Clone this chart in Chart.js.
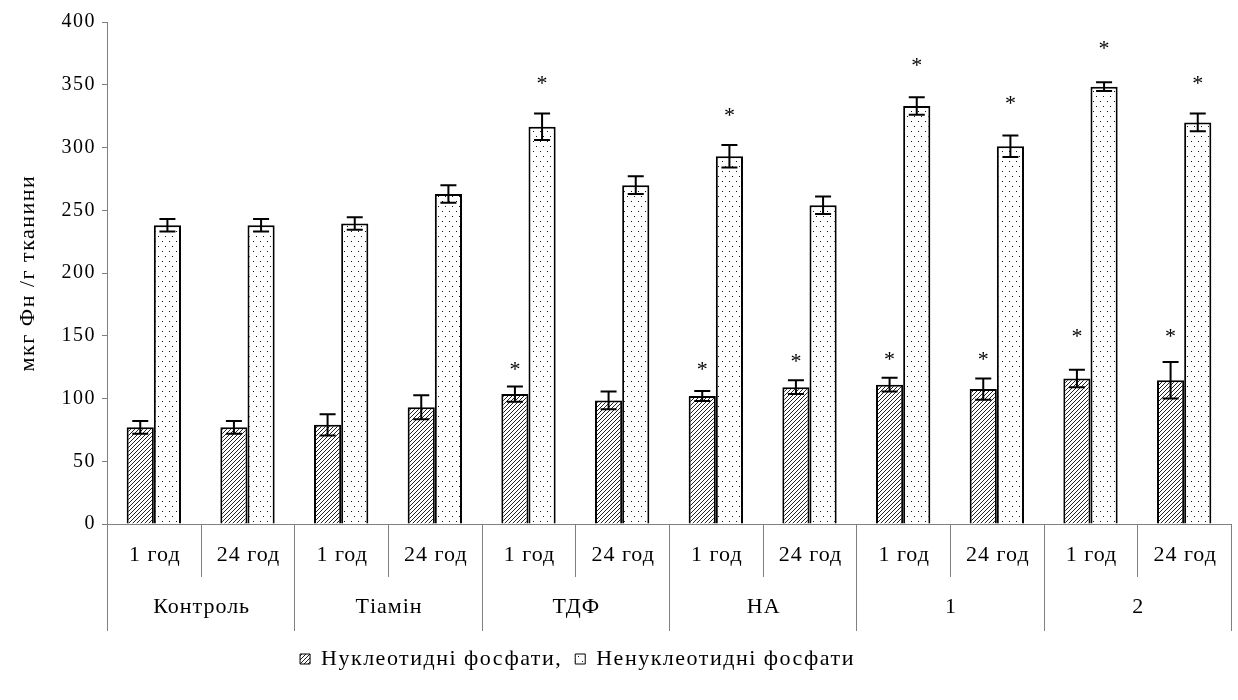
<!DOCTYPE html>
<html>
<head>
<meta charset="utf-8">
<script src="https://cdn.jsdelivr.net/npm/chart.js@4.4.1/dist/chart.umd.min.js"></script>
<style>
  body { margin: 0; background: #fff; }
  #wrap { width: 1238px; height: 700px; }
</style>
</head>
<body>
<div id="wrap"><canvas id="c" width="1238" height="700"></canvas></div>
<script>
// групи та час
const groups = ['Контроль', 'Тіамін', 'ТДФ', 'НА', '1', '2'];
const times = ['1 год', '24 год'];

// нуклеотидні фосфати
const nucl = [77, 77, 79, 93, 103.5, 98.5, 102, 109, 111, 107.5, 116, 114.5];
const nuclErr = [5, 5, 8.5, 9.5, 6, 7, 4, 5.5, 5.5, 8.5, 7, 14.5];
const nuclStars = [null, null, null, null, 125.5, null, 125.5, 132, 134, 134, 152, 152];

// ненуклеотидні фосфати
const nonNucl = [238, 238, 239.5, 263, 316.5, 270, 293, 254, 333, 301, 348.5, 320];
const nonNuclErr = [5, 5, 5, 7, 10.5, 7, 9, 7, 7, 8.5, 3.5, 7];
const nonNuclStars = [null, null, null, null, 354, null, 328, null, 368, 338, 381.5, 354];

const yTicks = [0, 50, 100, 150, 200, 250, 300, 350, 400];

const labels = groups.flatMap(() => times);
const serif = '"Liberation Serif", "DejaVu Serif", serif';
const spacing = '1.5px';

function hatchPattern() {
  const c = document.createElement('canvas');
  c.width = 4; c.height = 4;
  const g = c.getContext('2d');
  g.fillStyle = '#fff'; g.fillRect(0, 0, 4, 4);
  g.strokeStyle = '#222'; g.lineWidth = 1;
  g.beginPath();
  g.moveTo(0, 4); g.lineTo(4, 0);
  g.moveTo(-1, 1); g.lineTo(1, -1);
  g.moveTo(3, 5); g.lineTo(5, 3);
  g.stroke();
  return g.createPattern(c, 'repeat');
}

function dotPattern() {
  const c = document.createElement('canvas');
  c.width = 7; c.height = 10;
  const g = c.getContext('2d');
  g.fillStyle = '#fff'; g.fillRect(0, 0, 7, 10);
  g.fillStyle = '#111';
  g.fillRect(1, 1, 1, 1);
  g.fillRect(4, 6, 1, 1);
  return g.createPattern(c, 'repeat');
}

const extras = {
  id: 'extras',
  beforeLayout(chart) { chart.ctx.letterSpacing = spacing; },
  afterLayout(chart) {
    // легенда трохи лівіше центру, як в оригіналі
    chart.legend.left -= 38;
    chart.legend.right -= 38;
  },
  beforeDraw(chart) { chart.ctx.letterSpacing = spacing; },
  afterDatasetsDraw(chart) {
    const ctx = chart.ctx;
    const x = chart.scales.x, y = chart.scales.y;
    const area = chart.chartArea;
    ctx.save();

    // похибки
    chart.data.datasets.forEach((ds, di) => {
      const meta = chart.getDatasetMeta(di);
      meta.data.forEach((bar, i) => {
        const v = ds.data[i], e = ds.err[i];
        const t = y.getPixelForValue(v + e), b = y.getPixelForValue(v - e);
        ctx.strokeStyle = '#000';
        ctx.lineWidth = 2;
        ctx.beginPath();
        ctx.moveTo(bar.x, t); ctx.lineTo(bar.x, b);
        ctx.moveTo(bar.x - 8, t); ctx.lineTo(bar.x + 8, t);
        ctx.moveTo(bar.x - 8, b); ctx.lineTo(bar.x + 8, b);
        ctx.stroke();

        const s = ds.stars[i];
        if (s != null) {
          ctx.letterSpacing = '0px';
          ctx.font = '22px ' + serif;
          ctx.fillStyle = '#000';
          ctx.textAlign = 'center';
          ctx.textBaseline = 'alphabetic';
          const m = ctx.measureText('*');
          const cy = y.getPixelForValue(s);
          ctx.fillText('*', bar.x, cy + (m.actualBoundingBoxAscent - m.actualBoundingBoxDescent) / 2);
        }
      });
    });

    // підписи осі x
    const w = (area.right - area.left) / labels.length;
    const y0 = area.bottom;
    ctx.strokeStyle = '#808080';
    ctx.lineWidth = 1;
    ctx.beginPath();
    for (let i = 0; i <= labels.length; i++) {
      const px = Math.round(area.left + i * w) + 0.5;
      const long = i % times.length === 0;
      ctx.moveTo(px, y0);
      ctx.lineTo(px, y0 + (long ? 107 : 53));
    }
    ctx.stroke();

    ctx.letterSpacing = '1px';
    ctx.fillStyle = '#000';
    ctx.font = '22px ' + serif;
    ctx.textAlign = 'center';
    ctx.textBaseline = 'middle';
    labels.forEach((l, i) => {
      ctx.fillText(l, x.getPixelForValue(i) + 1, y0 + 31);
    });
    groups.forEach((g, gi) => {
      const cx = area.left + (gi * times.length + times.length / 2) * w;
      ctx.fillText(g, cx + 1, y0 + 83);
    });
    ctx.restore();
  }
};

const hatch = hatchPattern();
const dots = dotPattern();

new Chart(document.getElementById('c'), {
  type: 'bar',
  data: {
    labels,
    datasets: [
      { label: 'Нуклеотидні фосфати', data: nucl, err: nuclErr, stars: nuclStars,
        backgroundColor: hatch, borderColor: '#000', borderWidth: 2 },
      { label: 'Ненуклеотидні фосфати', data: nonNucl, err: nonNuclErr, stars: nonNuclStars,
        backgroundColor: dots, borderColor: '#000', borderWidth: 2 }
    ]
  },
  options: {
    responsive: false,
    animation: false,
    layout: { padding: { left: 0, right: 7, top: 22, bottom: 20 } },
    datasets: { bar: { categoryPercentage: 0.58, barPercentage: 1 } },
    scales: {
      x: {
        ticks: { display: false },
        grid: { display: false },
        border: { color: '#808080' },
        afterFit: s => { s.height = 118; }
      },
      y: {
        min: 0, max: 400,
        afterBuildTicks: s => { s.ticks = yTicks.map(v => ({ value: v })); },
        ticks: { color: '#000', font: { family: serif, size: 20 }, padding: 6 },
        grid: { drawOnChartArea: false, tickLength: 5, color: '#808080' },
        border: { color: '#808080' },
        title: { display: true, text: 'мкг Фн /г тканини', color: '#000',
                 font: { family: serif, size: 22 }, padding: { top: 15, bottom: 0 } },
        afterFit: s => { s.width = 107; }
      }
    },
    plugins: {
      legend: {
        position: 'bottom',
        labels: {
          boxWidth: 10, boxHeight: 10, color: '#000', padding: 6,
          font: { family: serif, size: 22 },
          generateLabels: chart => {
            const items = Chart.defaults.plugins.legend.labels.generateLabels(chart);
            items.forEach((it, i) => {
              if (i < items.length - 1) it.text += ', ';
              it.lineWidth = 1;
            });
            return items;
          }
        }
      },
      tooltip: { enabled: false }
    }
  },
  plugins: [extras]
});
</script>
</body>
</html>
